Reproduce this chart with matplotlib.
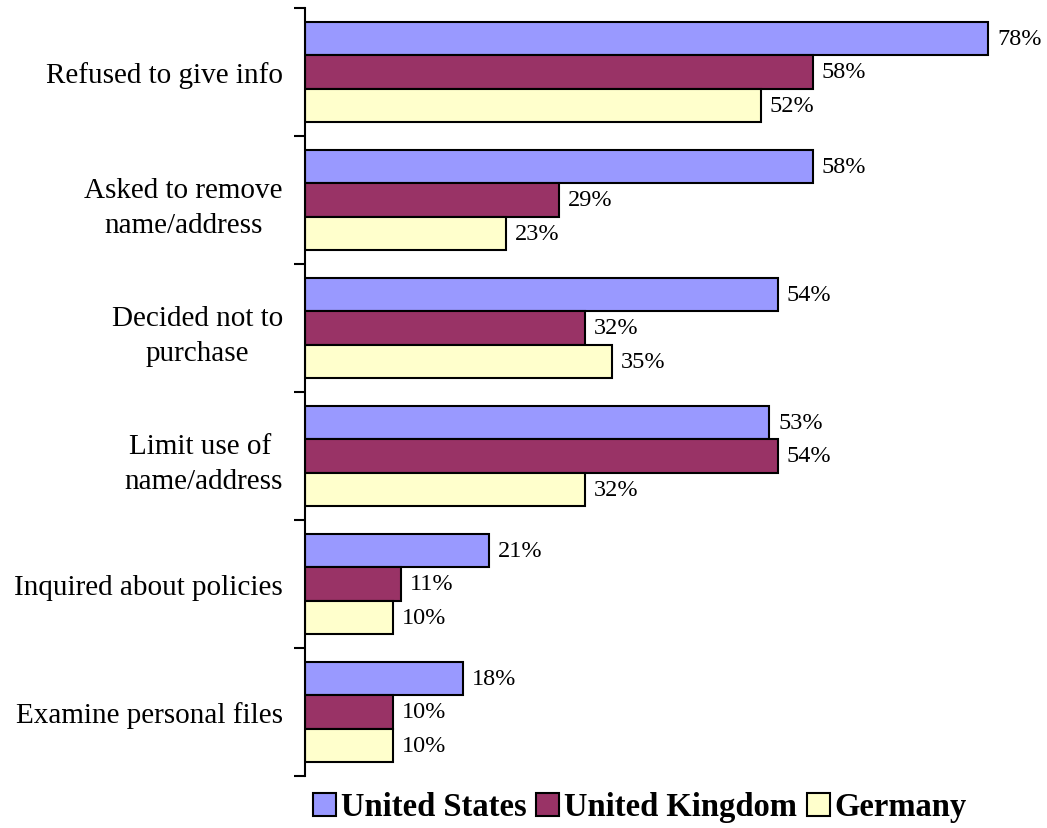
import numpy as np
import matplotlib.pyplot as plt

plt.rcParams['font.family'] = ['Liberation Serif', 'DejaVu Serif']

categories = ['Refused to give info', 'Asked to remove\nname/address', 'Decided not to\npurchase',
              'Limit use of \nname/address', 'Inquired about policies', 'Examine personal files']
us = [78, 58, 54, 53, 21, 18]
uk = [58, 29, 32, 54, 11, 10]
de = [52, 23, 35, 32, 10, 10]
series = ['United States', 'United Kingdom', 'Germany']
colors = ['#9999FF', '#993366', '#FFFFCC']

fig = plt.figure(figsize=(10.47, 8.29), dpi=100)
ax = fig.add_axes([305/1047, 1 - 777/829, 1 - 305/1047, 768/829])

n = len(categories)
y = np.arange(n)
h = 0.263
for i, (vals, name, c) in enumerate(zip([us, uk, de], series, colors)):
    pos = y + (i - 1) * h
    bars = ax.barh(pos, vals, height=h, color=c, edgecolor='black', linewidth=1.5, label=name)
    for b, v in zip(bars, vals):
        ax.text(v + 1.0, b.get_y() + h / 2, f'{v}%', va='center', ha='left', fontsize=17.5, clip_on=False)

ax.set_ylim(n - 0.5, -0.5)
ax.set_xlim(0, 84.7)
ax.set_yticks(y)
ax.set_yticklabels(categories, fontsize=21, multialignment='center', linespacing=1.45)
ax.tick_params(axis='y', which='major', length=0, pad=16)
ax.set_yticks(np.arange(n + 1) - 0.5, minor=True)
ax.tick_params(axis='y', which='minor', length=8, width=1.5, direction='out')
ax.xaxis.set_visible(False)
for s in ['top', 'right', 'bottom']:
    ax.spines[s].set_visible(False)
ax.spines['left'].set_linewidth(1.5)

leg = fig.legend(loc='center', bbox_to_anchor=(640/1047, 1 - 808/829), ncol=3, frameon=False,
                 prop={'size': 23.5, 'weight': 'bold'}, handlelength=0.7, handleheight=0.7,
                 handletextpad=0.15, columnspacing=0.3)

fig.savefig('out.png', dpi=100)
